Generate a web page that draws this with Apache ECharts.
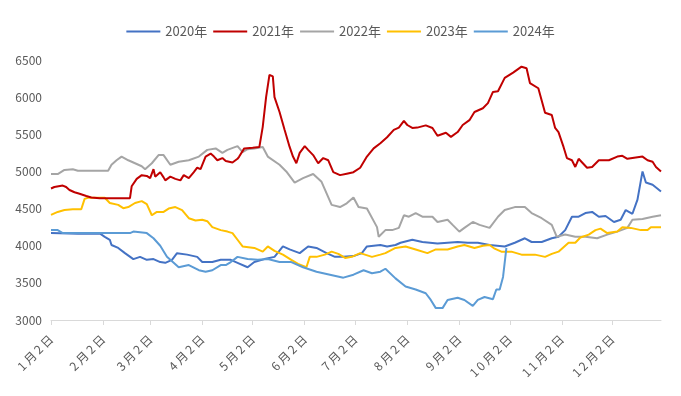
<!DOCTYPE html>
<html>
<head>
<meta charset="utf-8">
<script src="https://cdn.jsdelivr.net/npm/echarts@6/dist/echarts.min.js"></script>
<style>
  html, body { margin: 0; padding: 0; background: #fff; }
  #chart { width: 681px; height: 396px; }
</style>
</head>
<body>
<div id="chart"></div>
<script>
// 日期类目：1月2日 ~ 12月31日（按日）
const categories = []
for (let m = 1; m <= 12; m++) {
  const days = [31, 28, 31, 30, 31, 30, 31, 31, 30, 31, 30, 31][m - 1]
  for (let d = (m === 1 ? 2 : 1); d <= days; d++) categories.push(m + '月' + d + '日')
}

const legendNames = ['2020年', '2021年', '2022年', '2023年', '2024年']
const colors = ['#4472C4', '#C00000', '#A5A5A5', '#FFC000', '#5B9BD5']
const yTicks = [3000, 3500, 4000, 4500, 5000, 5500, 6000, 6500]

// [日序号, 价格]
const s2020 = [[0,4170],[16,4160],[29,4165],[32,4120],[35,4080],[36,4010],[40,3970],[44,3900],[49,3820],[53,3850],[57,3810],[61,3820],[65,3780],[68,3770],[72,3810],[75,3900],[81,3880],[87,3850],[90,3780],[96,3780],[101,3810],[107,3810],[111,3770],[117,3710],[121,3780],[127,3820],[133,3850],[138,3990],[142,3950],[148,3900],[153,3990],[158,3970],[164,3900],[169,3850],[174,3850],[180,3860],[185,3900],[188,3990],[196,4010],[200,3990],[205,4010],[208,4040],[215,4080],[221,4050],[230,4030],[236,4040],[242,4050],[248,4040],[254,4040],[261,4010],[270,3990],[276,4040],[282,4100],[286,4050],[292,4050],[298,4100],[302,4120],[306,4210],[310,4390],[314,4390],[318,4440],[322,4455],[326,4390],[330,4400],[335,4320],[339,4350],[342,4480],[346,4430],[349,4620],[352,5000],[354,4850],[358,4820],[363,4730]]
const s2021 = [[0,4770],[2,4790],[7,4810],[9,4790],[11,4750],[14,4720],[17,4700],[21,4670],[24,4650],[29,4640],[47,4640],[48,4800],[51,4900],[54,4950],[57,4940],[59,4910],[61,5030],[62,4930],[65,4990],[67,4920],[68,4880],[71,4930],[74,4900],[77,4880],[79,4950],[82,4910],[85,4990],[87,5050],[89,5030],[92,5200],[95,5240],[97,5200],[99,5150],[102,5180],[104,5140],[108,5120],[111,5170],[112,5200],[115,5310],[120,5320],[124,5330],[126,5600],[128,6000],[130,6300],[131,6320],[132,6280],[133,6000],[136,5800],[139,5560],[142,5330],[144,5200],[146,5110],[148,5250],[151,5340],[153,5290],[156,5220],[159,5110],[162,5180],[165,5150],[168,4990],[172,4950],[176,4970],[180,4990],[184,5050],[188,5200],[192,5310],[196,5380],[200,5460],[204,5560],[207,5590],[210,5680],[212,5625],[215,5585],[218,5590],[223,5620],[227,5585],[230,5480],[235,5520],[238,5465],[242,5530],[245,5625],[249,5690],[252,5800],[257,5850],[260,5920],[263,6070],[266,6080],[270,6260],[275,6330],[280,6410],[283,6390],[285,6190],[290,6120],[294,5790],[298,5760],[300,5585],[302,5530],[305,5330],[307,5180],[310,5150],[312,5060],[314,5170],[319,5050],[322,5060],[326,5150],[332,5150],[337,5200],[340,5210],[343,5170],[346,5180],[352,5200],[355,5150],[358,5130],[360,5060],[363,5000]]
const s2022 = [[0,4965],[4,4965],[8,5020],[13,5030],[16,5010],[34,5010],[36,5090],[39,5150],[42,5200],[46,5150],[50,5110],[54,5070],[56,5030],[60,5110],[64,5220],[67,5220],[71,5090],[76,5130],[82,5150],[88,5200],[93,5290],[98,5310],[102,5250],[105,5290],[111,5340],[114,5260],[117,5300],[121,5310],[126,5330],[129,5200],[136,5090],[140,5000],[145,4850],[150,4910],[156,4965],[161,4860],[167,4550],[172,4520],[176,4570],[180,4650],[183,4520],[188,4500],[194,4250],[195,4120],[199,4210],[203,4210],[207,4240],[210,4410],[213,4390],[217,4440],[221,4390],[227,4390],[230,4320],[236,4350],[239,4280],[243,4190],[246,4240],[251,4320],[255,4280],[261,4240],[266,4390],[270,4480],[276,4520],[282,4520],[286,4440],[292,4370],[298,4280],[301,4120],[306,4150],[312,4120],[318,4120],[325,4100],[331,4150],[337,4190],[343,4240],[346,4350],[352,4360],[358,4390],[363,4410]]
const s2023 = [[0,4415],[4,4455],[8,4480],[13,4490],[18,4490],[20,4630],[22,4645],[32,4645],[35,4575],[40,4550],[43,4505],[46,4520],[50,4575],[54,4600],[57,4560],[60,4410],[63,4455],[67,4455],[70,4500],[74,4520],[78,4480],[82,4370],[86,4340],[90,4350],[93,4330],[96,4250],[101,4210],[105,4190],[108,4170],[111,4080],[114,3990],[121,3970],[126,3920],[129,3990],[133,3930],[138,3880],[143,3810],[147,3755],[152,3710],[154,3850],[158,3850],[163,3880],[167,3920],[171,3890],[175,3835],[179,3850],[184,3900],[191,3850],[196,3880],[199,3900],[205,3970],[211,3990],[217,3950],[224,3900],[229,3950],[236,3950],[242,3990],[246,4010],[252,3970],[257,4000],[261,4010],[264,3960],[268,3920],[274,3920],[280,3880],[288,3880],[294,3850],[298,3890],[302,3920],[308,4040],[312,4040],[315,4110],[320,4150],[324,4210],[327,4230],[331,4170],[337,4190],[340,4250],[345,4240],[351,4210],[355,4210],[357,4250],[363,4250]]
const s2024 = [[0,4210],[4,4210],[7,4170],[17,4170],[29,4170],[47,4170],[49,4190],[57,4170],[61,4100],[65,4000],[69,3850],[73,3770],[76,3710],[82,3740],[88,3670],[92,3650],[96,3670],[101,3740],[104,3740],[107,3780],[111,3850],[117,3820],[123,3810],[129,3820],[136,3780],[143,3780],[150,3710],[158,3650],[166,3610],[174,3570],[180,3610],[186,3670],[191,3630],[196,3650],[199,3690],[205,3560],[211,3450],[217,3410],[223,3360],[226,3270],[229,3160],[233,3160],[236,3270],[242,3300],[246,3270],[251,3190],[254,3270],[258,3310],[263,3280],[265,3410],[267,3410],[269,3580],[271,3970]]

const seriesData = [s2020, s2021, s2022, s2023, s2024]

const isMonthLabel = (idx, val) => /月2日$/.test(val)

const chart = echarts.init(document.getElementById('chart'))
chart.setOption({
  animation: false,
  textStyle: { fontFamily: 'Noto Sans CJK SC' },
  color: colors,
  legend: {
    top: 20,
    icon: 'rect',
    itemWidth: 34,
    itemHeight: 2,
    itemGap: 6,
    data: legendNames,
    textStyle: { color: '#595959', fontSize: 13 }
  },
  grid: { left: 51, right: 20, top: 60, bottom: 76 },
  xAxis: {
    type: 'category',
    boundaryGap: false,
    data: categories,
    axisLine: { lineStyle: { color: '#D9D9D9' } },
    axisTick: { interval: isMonthLabel, length: 5, lineStyle: { color: '#D9D9D9' } },
    axisLabel: {
      interval: isMonthLabel,
      rotate: 45,
      color: '#595959',
      fontSize: 12,
      margin: 17,
      // 字间留一点空隙
      formatter: (val) => val.split('').join('\u2009')
    }
  },
  yAxis: {
    type: 'value',
    min: yTicks[0],
    max: yTicks[yTicks.length - 1],
    interval: 500,
    axisLine: { show: false },
    axisTick: { show: false },
    splitLine: { show: false },
    axisLabel: { color: '#595959', fontSize: 12, margin: 9, formatter: (v) => String(v) }
  },
  series: legendNames.map((name, i) => ({
    name,
    type: 'line',
    data: seriesData[i],
    showSymbol: false,
    lineStyle: { width: 2 },
    z: i === 1 ? 3 : 2
  }))
})
</script>
</body>
</html>
